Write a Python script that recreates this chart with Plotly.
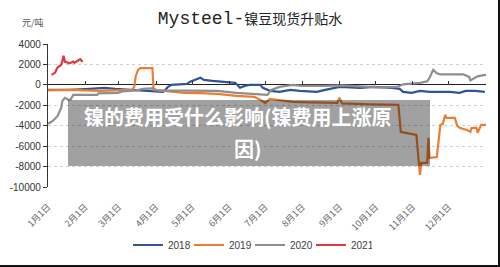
import pandas as pd
import plotly.graph_objects as go

# ---- data (day of year offset, value in 元/吨) ----
days_2018 = [0, 18, 35, 47, 56, 72, 85, 96, 100, 103, 116, 118, 127, 130, 137, 147, 156, 160, 164, 168,
             177, 179, 185, 193, 202, 210, 224, 231, 243, 260, 272, 287, 293, 296, 303, 310, 318, 335,
             343, 348, 356, 364]
vals_2018 = [-490, -490, -390, -290, -390, -490, -590, -690, -200, 0, 100, 290, 690, 490, 390, 290, 200,
             -290, -100, 0, 0, -290, -590, -690, -490, -590, -690, -490, -200, -290, -200, -290, -390,
             -690, -780, -590, -690, -690, -780, -590, -590, -690]

days_2019 = [0, 18, 43, 60, 70, 72, 73, 75, 77, 87, 88, 97, 106, 114, 127, 141, 157, 172, 177, 181, 185,
             193, 204, 218, 241, 243, 245, 268, 292, 294, 304, 307, 309, 310, 311, 316, 317, 318, 324,
             327, 329, 331, 332, 339, 341, 343, 349, 352, 353, 357, 358, 361, 365]
vals_2019 = [-540, -490, -590, -490, -490, -170, 800, 1470, 1640, 1640, -490, -590, -690, -780, -810,
             -880, -1080, -1180, -1470, -1760, -1370, -1470, -1670, -1720, -1760, -1270, -1810, -1910,
             -1960, -4610, -4800, -4900, -7640, -8820, -7640, -7640, -5190, -7150, -7060, -3920, -3820,
             -2940, -3230, -3230, -4020, -4210, -4410, -4610, -4210, -4210, -4700, -3920, -3920]

days_2020 = [0, 4, 8, 11, 12, 14, 17, 19, 21, 41, 42, 58, 62, 74, 79, 87, 91, 112, 141, 157, 177, 183,
             186, 193, 204, 212, 229, 246, 260, 277, 291, 296, 310, 316, 318, 321, 324, 327, 346, 351,
             352, 355, 358, 362, 365]
vals_2020 = [-3820, -3530, -3040, -2250, -1570, -1270, -1470, -1420, -980, -980, -830, -780, -640, -540,
             -390, -340, -540, -540, -590, -780, -930, -980, -490, -200, 0, -100, -100, -50, -150, -250,
             -200, 50, 200, 340, 690, 1470, 1130, 1030, 1030, 780, 440, 640, 830, 930, 980]

days_2021 = [3, 6, 7, 8, 11, 13, 14, 16, 18, 21, 22, 25, 27, 28, 29]
vals_2021 = [980, 1200, 1470, 1700, 1960, 2840, 2280, 2180, 2120, 2280, 2150, 2380, 2520, 2350, 2290]

series_names = ["2018", "2019", "2020", "2021"]
series_colors = ["#2F5597", "#ED7D31", "#8E8E8E", "#E0393E"]

month_ticks = pd.date_range("2001-01-01", periods=12, freq="MS")
month_labels = [f"{m}月1日" for m in range(1, 13)]
y_ticks = [4000, 2000, 0, -2000, -4000, -6000, -8000, -10000]
y_labels = [str(v) for v in y_ticks]

title_latin = "Mysteel-"
title_cjk = "镍豆现货升贴水"
unit_text = "元/吨"
overlay_line1 = "镍的费用受什么影响(镍费用上涨原"
overlay_line2 = "因)"

base = pd.Timestamp("2001-01-01")

def to_dates(days):
    return [base + pd.Timedelta(days=d) for d in days]

fig = go.Figure()
all_days = [days_2018, days_2019, days_2020, days_2021]
all_vals = [vals_2018, vals_2019, vals_2020, vals_2021]
for name, color, d, v in zip(series_names, series_colors, all_days, all_vals):
    fig.add_trace(go.Scatter(x=to_dates(d), y=v, mode="lines", name=name,
                             line=dict(color=color, width=2.2, shape="linear")))

# invisible trace to carry the tick axis on the zero line
fig.add_trace(go.Scatter(x=[base], y=[0], xaxis="x2", mode="markers",
                         marker=dict(opacity=0), showlegend=False, hoverinfo="skip"))

L, R, T, B = 48, 14, 44, 80
W, H = 500, 267
pw, ph = W - L - R, H - T - B

def px_x(px):
    return (px - L) / pw

def px_y(py):
    return (H - B - py) / ph

title_html = (f"<span style='font-size:18px'>{title_latin}</span>"
              f"<span style='font-size:14px'>{title_cjk}</span>")

fig.update_layout(
    width=W, height=H,
    margin=dict(l=L, r=R, t=T, b=B, autoexpand=False),
    paper_bgcolor="white", plot_bgcolor="white",
    font=dict(family="Liberation Sans, Arial, Noto Sans CJK SC", color="#404040", size=10),
    title=dict(text=title_html, x=0.5, xanchor="center", y=1 - 18 / H, yanchor="middle",
               font=dict(family="Liberation Mono, Noto Sans CJK SC", size=16, color="#222")),
    xaxis=dict(type="date", range=["2001-01-01", "2002-01-01"], tickvals=month_ticks,
               ticktext=month_labels, tickangle=-45, showgrid=False, zeroline=False,
               showline=False, ticks="", ticklabelstandoff=12,
               tickfont=dict(size=9, color="#666", family="Noto Sans CJK SC")),
    xaxis2=dict(type="date", range=["2001-01-01", "2002-01-01"], overlaying="x", anchor="free",
                position=10 / 14, tickvals=month_ticks, showticklabels=False, ticks="inside",
                ticklen=4, tickcolor="#333", showgrid=False, zeroline=False, showline=False),
    yaxis=dict(range=[-10000, 4000], tickvals=y_ticks, ticktext=y_labels, showgrid=True,
               gridcolor="#D0D0D0", griddash="dot", gridwidth=1, zeroline=True,
               zerolinecolor="#222", zerolinewidth=1.3, showline=True, linecolor="#333",
               linewidth=1.3, ticks="outside", ticklen=4, tickcolor="#333",
               tickfont=dict(size=10, color="#333")),
    legend=dict(orientation="h", x=0.5, xanchor="center", xref="container",
                y=1 - 245 / H, yanchor="middle", yref="container",
                font=dict(size=10, color="#404040"), entrywidth=16, entrywidthmode="pixels",
                itemwidth=30),
    showlegend=True,
)

# unit label
fig.add_annotation(text=unit_text, xref="paper", yref="paper", x=px_x(33), y=px_y(22),
                   xanchor="center", yanchor="middle", showarrow=False,
                   font=dict(size=9, color="#555", family="Noto Sans CJK SC"))

# translucent overlay with caption
fig.add_shape(type="rect", xref="paper", yref="paper", x0=px_x(68), x1=px_x(430),
              y0=px_y(166), y1=px_y(100), fillcolor="rgba(0,0,0,0.37)", line=dict(width=0),
              layer="above")
fig.add_annotation(text=f"<b>{overlay_line1}</b>", xref="paper", yref="paper", x=px_x(238),
                   y=px_y(117), xanchor="center", yanchor="middle", showarrow=False,
                   font=dict(size=20, color="white", family="Noto Sans CJK SC"))
fig.add_annotation(text=f"<b>{overlay_line2}</b>", xref="paper", yref="paper", x=px_x(248),
                   y=px_y(148), xanchor="center", yanchor="middle", showarrow=False,
                   font=dict(size=20, color="white", family="Noto Sans CJK SC"))

# frame on right and bottom edges
fig.add_shape(type="line", xref="paper", yref="paper", x0=px_x(499), x1=px_x(499),
              y0=px_y(0), y1=px_y(267), line=dict(color="#111", width=2), layer="above")
fig.add_shape(type="line", xref="paper", yref="paper", x0=px_x(0), x1=px_x(500),
              y0=px_y(266), y1=px_y(266), line=dict(color="#111", width=2), layer="above")

fig.write_html("out.html")
